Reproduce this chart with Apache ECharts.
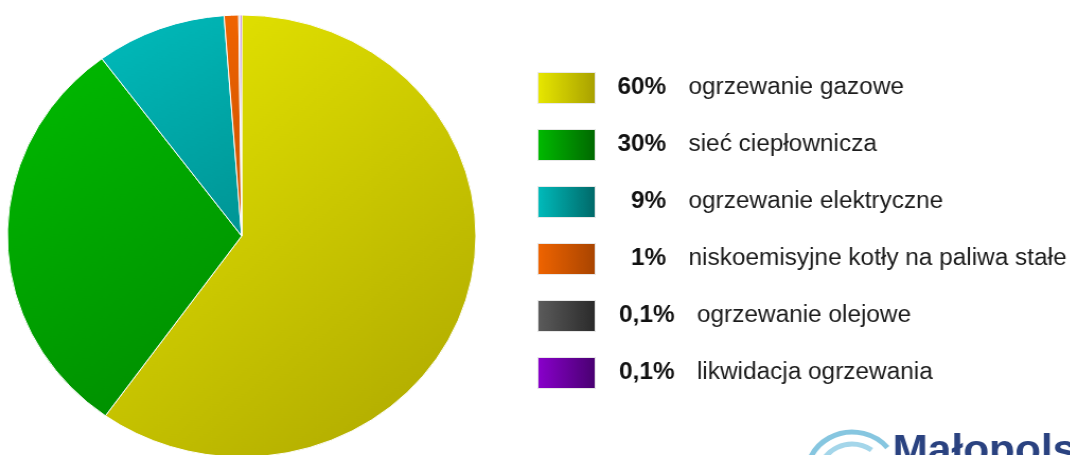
<!DOCTYPE html>
<html>
<head>
<meta charset="utf-8">
<script src="https://cdn.jsdelivr.net/npm/echarts@6/dist/echarts.min.js"></script>
<style>
  html, body { margin: 0; padding: 0; background: #fff; overflow: hidden; }
  /* oryginał jest lekko rozciągnięty w poziomie */
  #chart { width: 1010px; height: 455px; transform: scaleX(1.06); transform-origin: 0 0; }
</style>
</head>
<body>
<div id="chart"></div>
<script>
// dane
var names = ['ogrzewanie gazowe', 'sieć ciepłownicza', 'ogrzewanie elektryczne', 'niskoemisyjne kotły na paliwa stałe', 'ogrzewanie olejowe', 'likwidacja ogrzewania'];
var values = [60, 30, 9, 1, 0.1, 0.1];
var percentLabels = ['60%', '30%', '9%', '1%', '0,1%', '0,1%'];

// kolory: jasny, ciemny (wycinek), ciemny (legenda)
var colLight = ['#e8e800', '#00bb00', '#00bcbc', '#f06400', '#5c5c5c', '#8a00cc'];
var colPie   = ['#aca600', '#008a00', '#009494', '#c85000', '#3a3a3a', '#5a0090'];
var colLeg   = ['#a8a000', '#006800', '#006868', '#a84400', '#2a2a2a', '#480070'];

var FONT = 'Liberation Sans';
var FS = 23;

function grad(x2, y2, c1, c2) {
  return new echarts.graphic.LinearGradient(0, 0, x2, y2, [
    { offset: 0, color: c1 },
    { offset: 1, color: c2 }
  ]);
}

// szerokość tekstu - do wyrównania procentów do prawej
var ctx = document.createElement('canvas').getContext('2d');
function textWidth(s) {
  ctx.font = 'bold ' + FS + 'px "' + FONT + '"';
  return ctx.measureText(s).width;
}

var pieData = names.map(function (n, i) {
  return { name: n, value: values[i], itemStyle: { color: grad(1, 1, colLight[i], colPie[i]) } };
});
var legendData = names.map(function (n, i) {
  return { name: n, icon: 'rect', itemStyle: { color: grad(1, 0, colLight[i], colLeg[i]), borderColor: '#e8e8e8', borderWidth: 1 } };
});

var rich = {};
percentLabels.forEach(function (p, i) {
  var box = p.length > 3 ? 70 : 62;
  rich['p' + i] = { fontFamily: FONT, fontSize: FS, fontWeight: 'bold', color: '#111111',
    padding: [0, 0, 0, Math.max(0, box - textWidth(p))] };
});
rich.t = { fontFamily: FONT, fontSize: FS, color: '#1c1c1c', padding: [0, 0, 0, 21] };

var chart = echarts.init(document.getElementById('chart'));
chart.setOption({
  animation: false,
  backgroundColor: '#ffffff',
  legend: {
    orient: 'vertical',
    left: 507,
    top: 72,
    padding: 0,
    itemWidth: 54,
    itemHeight: 31,
    itemGap: 25,
    selectedMode: false,
    data: legendData,
    textStyle: { fontFamily: FONT, fontSize: FS, color: '#1c1c1c', rich: rich },
    formatter: function (name) {
      var i = names.indexOf(name);
      return '{p' + i + '|' + percentLabels[i] + '}{t|' + name + '}';
    }
  },
  graphic: [
    { type: 'arc', shape: { cx: 804, cy: 475, r: 43, startAngle: Math.PI * 1.08, endAngle: Math.PI * 1.78 },
      style: { stroke: '#86c6e0', lineWidth: 5, fill: null } },
    { type: 'arc', shape: { cx: 804, cy: 475, r: 31, startAngle: Math.PI * 1.1, endAngle: Math.PI * 1.7 },
      style: { stroke: '#a4d6ea', lineWidth: 5, fill: null } },
    { type: 'text', left: 842, top: 432,
      style: { text: 'Małopolska', fontFamily: FONT, fontSize: 40, fontWeight: 'bold', fill: '#2a4280' } }
  ],
  series: [{
    type: 'pie',
    center: [228, 236],
    radius: 221,
    startAngle: 90,
    clockwise: true,
    label: { show: false },
    labelLine: { show: false },
    emphasis: { disabled: true },
    itemStyle: { borderColor: '#ffffff', borderWidth: 1 },
    data: pieData
  }]
});
</script>
</body>
</html>
